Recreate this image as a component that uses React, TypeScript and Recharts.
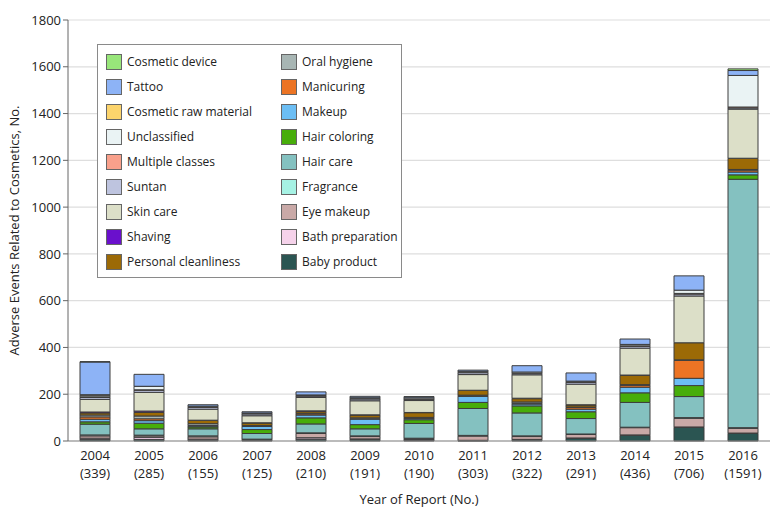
import React from "react";
import { BarChart, Bar, XAxis, YAxis, CartesianGrid, Legend } from "recharts";

const years = ["2004", "2005", "2006", "2007", "2008", "2009", "2010", "2011", "2012", "2013", "2014", "2015", "2016"];
const totals = [339, 285, 155, 125, 210, 191, 190, 303, 322, 291, 436, 706, 1591];
const yTicks = [0, 200, 400, 600, 800, 1000, 1200, 1400, 1600, 1800];

const babyProduct = [6, 7, 4, 3, 8, 6, 4, 1, 5, 11, 24, 58, 32];
const bathPreparation = [6, 9, 4, 1, 6, 3, 2, 2, 2, 2, 2, 2, 2];
const eyeMakeup = [10, 6, 10, 2, 18, 10, 4, 18, 12, 15, 31, 37, 20];
const fragrance = [4, 3, 4, 2, 3, 3, 2, 3, 3, 2, 2, 3, 3];
const hairCare = [46, 27, 30, 24, 38, 30, 63, 115, 98, 66, 106, 90, 1062];
const hairColoring = [10, 24, 8, 17, 26, 18, 16, 26, 30, 29, 41, 47, 19];
const makeup = [11, 11, 4, 13, 12, 24, 6, 26, 8, 11, 24, 31, 12];
const manicuring = [10, 8, 2, 2, 5, 1, 2, 2, 3, 7, 8, 77, 8];
const oralHygiene = [8, 12, 8, 2, 3, 4, 2, 3, 6, 2, 3, 2, 3];
const personalCleanliness = [9, 15, 14, 11, 8, 12, 20, 20, 14, 9, 40, 73, 47];
const shaving = [4, 6, 1, 1, 2, 1, 1, 1, 2, 1, 1, 0, 1];
const skinCare = [54, 80, 47, 30, 57, 60, 51, 67, 100, 88, 115, 200, 210];
const suntan = [8, 9, 8, 8, 6, 8, 6, 8, 5, 8, 8, 8, 5];
const multipleClasses = [3, 2, 2, 1, 2, 1, 1, 2, 2, 2, 2, 3, 4];
const unclassified = [7, 14, 3, 3, 3, 4, 5, 4, 5, 3, 6, 14, 135];
const cosmeticRawMaterial = [2, 1, 0, 0, 0, 0, 0, 0, 0, 0, 0, 0, 0];
const tattoo = [140, 51, 6, 5, 13, 6, 5, 5, 27, 35, 23, 61, 21];
const cosmeticDevice = [1, 0, 0, 0, 0, 0, 0, 0, 0, 0, 0, 0, 7];

// stacking order: bottom to top
const series = [
  { key: "babyProduct", name: "Baby product", color: "#2b5552", values: babyProduct },
  { key: "bathPreparation", name: "Bath preparation", color: "#f5d2ea", values: bathPreparation },
  { key: "eyeMakeup", name: "Eye makeup", color: "#c9a9a7", values: eyeMakeup },
  { key: "fragrance", name: "Fragrance", color: "#a6f2e4", values: fragrance },
  { key: "hairCare", name: "Hair care", color: "#84c1c0", values: hairCare },
  { key: "hairColoring", name: "Hair coloring", color: "#47ad0a", values: hairColoring },
  { key: "makeup", name: "Makeup", color: "#6cbef4", values: makeup },
  { key: "manicuring", name: "Manicuring", color: "#ec7424", values: manicuring },
  { key: "oralHygiene", name: "Oral hygiene", color: "#a8b6b4", values: oralHygiene },
  { key: "personalCleanliness", name: "Personal cleanliness", color: "#9c6a06", values: personalCleanliness },
  { key: "shaving", name: "Shaving", color: "#6a10cc", values: shaving },
  { key: "skinCare", name: "Skin care", color: "#dcdfc8", values: skinCare },
  { key: "suntan", name: "Suntan", color: "#bec4df", values: suntan },
  { key: "multipleClasses", name: "Multiple classes", color: "#f9a08b", values: multipleClasses },
  { key: "unclassified", name: "Unclassified", color: "#eaf3f4", values: unclassified },
  { key: "cosmeticRawMaterial", name: "Cosmetic raw material", color: "#fcd46c", values: cosmeticRawMaterial },
  { key: "tattoo", name: "Tattoo", color: "#8db3f6", values: tattoo },
  { key: "cosmeticDevice", name: "Cosmetic device", color: "#98e67a", values: cosmeticDevice },
];

const data = years.map((y, i) => {
  const row: Record<string, any> = { year: y, total: totals[i] };
  series.forEach((s) => {
    row[s.key] = s.values[i];
  });
  return row;
});

const FONT = "'Open Sans', 'DejaVu Sans', sans-serif";

const legendLeft = [...series].reverse().slice(0, 9);
const legendRight = [...series].reverse().slice(9);

const LegendBox = () => (
  <div
    style={{
      border: "1px solid #8a8a8a",
      background: "#fff",
      width: 305,
      height: 234,
      boxSizing: "border-box",
      position: "relative",
      fontFamily: FONT,
      fontSize: 12,
      color: "#222",
    }}
  >
    {[legendLeft, legendRight].map((col, ci) => (
      <div key={ci} style={{ position: "absolute", left: ci === 0 ? 8 : 183, top: 4 }}>
        {col.map((s) => (
          <div key={s.key} style={{ display: "flex", alignItems: "center", height: 25 }}>
            <div
              style={{
                width: 16,
                height: 16,
                background: s.color,
                border: "1px solid #666",
                boxSizing: "border-box",
                marginRight: 5,
              }}
            />
            <span>{s.name}</span>
          </div>
        ))}
      </div>
    ))}
  </div>
);

const XTick = (props: any) => {
  const { x, y, payload, index } = props;
  const i = years.indexOf(payload.value);
  return (
    <g transform={`translate(${x},${y})`}>
      <text textAnchor="middle" fill="#222" fontSize={13} fontFamily={FONT}>
        <tspan x={0} dy={11}>{payload.value}</tspan>
        <tspan x={0} dy={18}>({totals[i >= 0 ? i : index]})</tspan>
      </text>
    </g>
  );
};

export default function App() {
  return (
    <div style={{ position: "absolute", left: 0, top: 0, width: 783, height: 513, background: "#fff" }}>
      <BarChart
        width={783}
        height={513}
        data={data}
        margin={{ top: 20, right: 13, left: 0, bottom: 0 }}
        barSize={30}
      >
        <CartesianGrid vertical={false} stroke="#dedede" strokeWidth={1.2} />
        <XAxis
          dataKey="year"
          tickLine={false}
          axisLine={{ stroke: "#888" }}
          height={72}
          interval={0}
          tick={<XTick />}
          label={{
            value: "Year of Report (No.)",
            position: "insideBottom",
            offset: 9,
            fill: "#222",
            fontSize: 13,
            fontFamily: FONT,
          }}
        />
        <YAxis
          width={68}
          domain={[0, 1800]}
          ticks={yTicks}
          interval={0}
          axisLine={{ stroke: "#666" }}
          tickLine={{ stroke: "#666" }}
          tickSize={5}
          tick={{ fill: "#222", fontSize: 13, fontFamily: FONT }}
          label={{
            value: "Adverse Events Related to Cosmetics, No.",
            angle: -90,
            position: "insideLeft",
            offset: 14,
            fill: "#222",
            fontSize: 13,
            fontFamily: FONT,
            style: { textAnchor: "middle" },
          }}
        />
        <Legend
          layout="vertical"
          align="center"
          verticalAlign="middle"
          wrapperStyle={{ left: 97, top: 44, width: 305, height: 234 }}
          content={() => <LegendBox />}
        />
        {series.map((s) => (
          <Bar
            key={s.key}
            dataKey={s.key}
            name={s.name}
            stackId="a"
            fill={s.color}
            stroke="#3d3d3d"
            strokeWidth={1}
            isAnimationActive={false}
          />
        ))}
      </BarChart>
    </div>
  );
}
